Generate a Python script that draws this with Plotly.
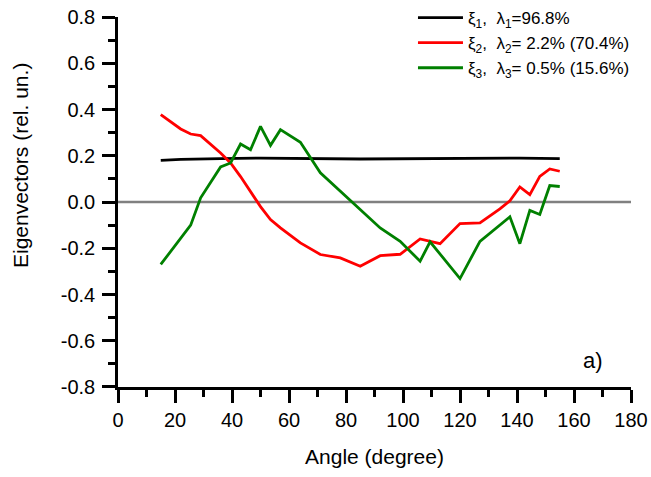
import plotly.graph_objects as go

# Data
black_x = [15, 22, 36, 50, 85, 120, 141, 155]
black_y = [0.180, 0.184, 0.188, 0.190, 0.186, 0.189, 0.190, 0.188]

red_x = [15, 22, 25.5, 29, 36, 39.5, 43, 46.5, 50, 53.5, 57, 64, 71, 78, 85, 92, 99, 106, 113, 120, 127, 134, 137.5, 141, 144.5, 148, 151.5, 155]
red_y = [0.378, 0.316, 0.294, 0.287, 0.212, 0.169, 0.11, 0.045, -0.02, -0.076, -0.112, -0.177, -0.227, -0.242, -0.278, -0.232, -0.226, -0.160, -0.180, -0.093, -0.090, -0.030, 0.005, 0.065, 0.032, 0.111, 0.143, 0.133]

green_x = [15, 25.5, 29, 36, 39.5, 43, 46.5, 50, 53.5, 57, 64, 71, 92, 99, 106, 109.5, 120, 127, 137.5, 141, 144.5, 148, 151.5, 155]
green_y = [-0.27, -0.10, 0.018, 0.152, 0.169, 0.251, 0.226, 0.327, 0.245, 0.313, 0.258, 0.126, -0.112, -0.170, -0.256, -0.172, -0.331, -0.170, -0.064, -0.180, -0.036, -0.054, 0.071, 0.067]

names = ["ξ<sub>1</sub>,  λ<sub>1</sub>=96.8%",
         "ξ<sub>2</sub>,  λ<sub>2</sub>= 2.2% (70.4%)",
         "ξ<sub>3</sub>,  λ<sub>3</sub>= 0.5% (15.6%)"]

x_ticks = list(range(0, 181, 20))
y_ticks = [-0.8, -0.6, -0.4, -0.2, 0.0, 0.2, 0.4, 0.6, 0.8]
y_ticktext = [f"{v:.1f}" for v in y_ticks]

FONT = "Liberation Sans, Arial, sans-serif"

fig = go.Figure()
fig.add_trace(go.Scatter(x=[0, 180], y=[0, 0], mode="lines",
                         line=dict(color="#808080", width=2.5), showlegend=False, hoverinfo="skip"))
fig.add_trace(go.Scatter(x=black_x, y=black_y, mode="lines", name=names[0],
                         line=dict(color="black", width=2.8)))
fig.add_trace(go.Scatter(x=red_x, y=red_y, mode="lines", name=names[1],
                         line=dict(color="#ff0000", width=2.8)))
fig.add_trace(go.Scatter(x=green_x, y=green_y, mode="lines", name=names[2],
                         line=dict(color="#008000", width=2.8)))

axis_common = dict(showgrid=False, zeroline=False, showline=True, linecolor="black",
                   linewidth=2.5, ticks="outside", ticklen=13, tickwidth=2.5, tickcolor="black",
                   automargin=False,
                   tickfont=dict(family=FONT, size=20, color="black"))

fig.update_xaxes(range=[0, 180], tickvals=x_ticks,
                 minor=dict(tickvals=list(range(10, 180, 20)), ticks="outside", ticklen=7,
                            tickwidth=2.5, tickcolor="black"),
                 title=dict(text="Angle (degree)", font=dict(family=FONT, size=21, color="black"), standoff=20),
                 **axis_common)
fig.update_yaxes(range=[-0.8, 0.8], tickvals=y_ticks, ticktext=y_ticktext, ticklabelstandoff=3,
                 domain=[0, 0.956],
                 minor=dict(tickvals=[-0.7, -0.5, -0.3, -0.1, 0.1, 0.3, 0.5, 0.7], ticks="outside",
                            ticklen=7, tickwidth=2.5, tickcolor="black"),
                 **axis_common)

# y-axis title (sits above the axis centre in the reference)
fig.add_annotation(x=-0.191, y=0.571, xref="paper", yref="paper", text="Eigenvectors (rel. un.)",
                   textangle=-90, showarrow=False, xanchor="center", yanchor="middle",
                   font=dict(family=FONT, size=21, color="black"))

fig.add_annotation(x=166.5, y=-0.685, xref="x", yref="y", text="a)", showarrow=False,
                   font=dict(family=FONT, size=22, color="black"), xanchor="center", yanchor="middle")

fig.update_layout(width=651, height=477, margin=dict(l=118, r=20, t=0, b=90),
                  plot_bgcolor="white", paper_bgcolor="white",
                  font=dict(family=FONT, size=17, color="black"),
                  legend=dict(x=0.575, y=1.0, xanchor="left", yanchor="top", bgcolor="rgba(0,0,0,0)",
                              font=dict(family=FONT, size=17), tracegroupgap=0, itemwidth=45))

fig.write_html("out.html")
